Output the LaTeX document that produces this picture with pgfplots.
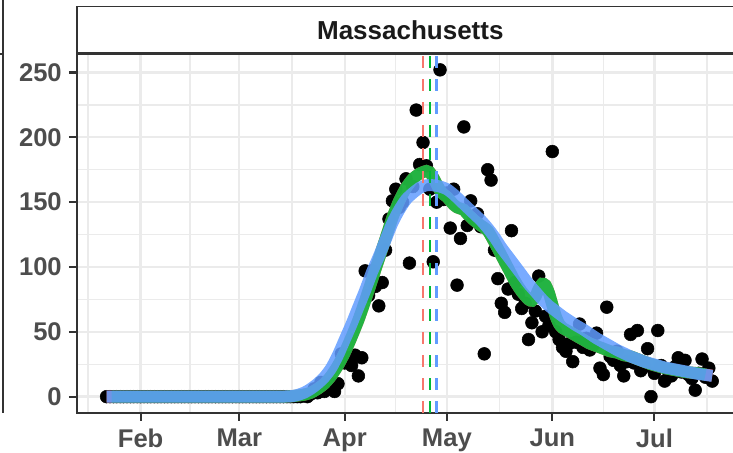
\documentclass[border=0pt]{standalone}
\usepackage{pgfplots}
\pgfplotsset{compat=1.18}
\usepackage{pgfplotstable}
\usepackage{fontspec}
\setmainfont{Liberation Sans}
\definecolor{gridc}{HTML}{EBEBEB}
\definecolor{bord}{HTML}{333333}
\definecolor{ticklab}{HTML}{4D4D4D}
\definecolor{striptxt}{HTML}{1A1A1A}
\definecolor{gred}{HTML}{F8766D}
\definecolor{ggreen}{HTML}{00BA38}
\definecolor{gblue}{HTML}{619CFF}

% day 0 = 1 Feb 2020
\pgfplotstableread{
d v
-10 0
-9 0
-8 0
-7 0
-6 0
-5 0
-4 0
-3 0
-2 0
-1 0
0 0
1 0
2 0
3 0
4 0
5 0
6 0
7 0
8 0
9 0
10 0
11 0
12 0
13 0
14 0
15 0
16 0
17 0
18 0
19 0
20 0
21 0
22 0
23 0
24 0
25 0
26 0
27 0
28 0
29 0
30 0
31 0
32 0
33 0
34 0
35 0
36 0
37 0
38 0
39 0
40 0
41 0
42 0
43 0
44 0
45 0
46 0
47 0
48 1
49 0
50 2
51 6
52 3
53 11
54 4
55 8
56 10
57 4
58 10
59 33
60 26
61 30
62 24
63 32
64 16
65 30
66 97
67 78
68 97
69 85
70 70
71 88
72 113
73 137
74 151
75 160
76 146
77 150
78 168
79 103
80 162
81 221
82 179
83 196
84 178
85 160
86 104
87 150
88 252
89 152
90 157
91 130
92 160
93 86
94 122
95 208
96 132
97 151
98 138
99 141
100 131
101 33
102 175
103 167
104 113
105 91
106 72
107 65
108 83
109 128
110 88
111 79
112 68
113 72
114 44
115 57
116 66
117 93
118 50
119 62
120 55
121 189
122 50
123 44
124 38
125 35
126 41
127 27
128 42
129 56
130 38
131 45
132 36
133 40
134 49
135 22
136 17
137 69
138 31
139 28
140 35
141 24
142 16
143 27
144 48
145 26
146 51
147 20
148 23
149 37
150 0
151 18
152 51
153 24
154 12
155 20
156 16
157 23
158 30
159 19
160 28
161 17
162 14
163 5
164 18
165 29
166 15
167 22
168 12
}\pts

\pgfplotstableread{
d v
-10 0
0 0
10 0
20 0
30 0
40 0
44 0.2
46 0.8
48 1.5
50 3
52 6
54 10
56 16
58 24
60 34
62 46
64 59
66 74
68 90
70 106
72 122
74 138
76 151
78 161
80 168
82 172
84 174
85 173
86 169
87 164
88 159
89 156
90 154
91 151
92 148
93 146
94 145
95 144
96 141
98 136
100 132
102 128
104 119
106 109
108 99
110 89
112 81
114 75
115 74
116 77
117 83
118 87
119 86
120 80
121 71
122 62
123 56
124 53
126 50
128 47
130 44
132 41
134 39
136 37
138 35
140 34
142 32
144 31
146 29
148 27
150 25
152 23.5
154 22
156 21
158 20
160 19
162 18.5
164 18
166 17
168 16.2
}\redfit

\pgfplotstableread{
d v
-8.5 0
0 0
10 0
20 0
30 0
40 0
44 0.2
46 0.8
48 1.5
50 3
52 6
54 10
56 16
58 24
60 34
62 46
64 59
66 74
68 90
70 106
72 122
74 138
76 151
78 161
80 168
82 172
84 174
85 173
86 169
87 164
88 159
89 156
90 154
91 151
92 148
93 146
94 145
95 144
96 141
98 136
100 132
102 128
104 119
106 109
108 99
110 89
112 81
114 75
115 74
116 77
117 83
118 87
119 86
120 80
121 71
122 62
123 56
124 53
126 50
128 47
130 44
132 41
134 39
136 37
138 35
140 34
142 32
144 31
146 29
148 27
150 25
152 23.5
154 22
156 21
158 20
160 19
162 18.5
164 18
166 17
}\greenfit

\pgfplotstableread{
d v
-10 0
0 0
10 0
20 0
30 0
40 0
44 0.3
46 1.2
48 3
50 6
52 10
54 15
56 22
58 32
60 44
62 56
64 69
66 82
68 96
70 108
72 121
74 134
76 144
78 152
80 157
82 161
84 163
86 163
88 162
90 160
92 156
94 151
96 146
98 141
100 136
102 130
104 123
106 115
108 108
110 101
112 94
114 87
116 81
118 75
120 70
122 66
124 62
126 58.5
128 55
130 52
132 48.5
134 45
136 42
138 39
140 36
142 33.5
144 31
146 29
148 27
150 25.5
152 24
154 22.5
156 21.5
158 20.5
160 19.5
162 18.5
164 17.5
166 16.8
168 16
}\bluefit

\begin{document}
\begin{tikzpicture}[x=0.75pt,y=0.75pt]
\useasboundingbox (0,0) rectangle (733,453);
\clip (0,0) rectangle (733,453);
% partial neighbouring panel on the left
\draw[bord, line width=1.6pt] (3.3,40) -- (3.3,460);
\draw[bord, line width=1.6pt] (-5,399) -- (3.3,399);
\begin{axis}[
  at={(57.75pt,30pt)}, anchor=south west,
  scale only axis, width=499.65pt, height=269.6pt,
  xmin=-18.7, xmax=177.1, ymin=-12.6, ymax=264.6,
  xtick={0,29,60,90,121,151},
  xticklabels={Feb,Mar,Apr,May,Jun,Jul},
  ytick={0,50,100,150,200,250},
  minor xtick={-15.5,14.5,44.5,75,105.5,136,166.5},
  minor ytick={25,75,125,175,225},
  grid=both,
  major grid style={draw=gridc, line width=1.8pt},
  minor grid style={draw=gridc, line width=1pt},
  tick pos=left, tick align=outside,
  major tick length=6pt, minor tick length=0pt,
  tick style={draw=bord, line width=1.6pt},
  axis line style={draw=bord, line width=1.6pt},
  /pgf/number format/assume math mode=true,
  tick label style={font=\bfseries\fontsize{19.2}{22}\selectfont, text=ticklab, inner sep=0pt},
  xticklabel style={anchor=north, yshift=-6pt},
  yticklabel style={anchor=east, xshift=-5.25pt},
  clip=true, clip marker paths=true,
]
\addplot[only marks, mark=*, mark size=4.8pt, black, mark options={draw=black, fill=black}] table[x=d, y=v] {\pts};
\addplot[gred, opacity=0.85, line width=9pt, line cap=butt, smooth, tension=0.4] table[x=d, y=v] {\redfit};
\addplot[ggreen, opacity=0.85, line width=9pt, line cap=butt, smooth, tension=0.4] table[x=d, y=v] {\greenfit};
\addplot[gblue, opacity=0.85, line width=9pt, line cap=butt, smooth, tension=0.4] table[x=d, y=v] {\bluefit};
\addplot[gred, line width=2pt, dash pattern=on 9pt off 8.25pt] coordinates {(83,-12.6) (83,264.6)};
\addplot[ggreen, line width=2pt, dash pattern=on 9pt off 8.25pt] coordinates {(85,-12.6) (85,264.6)};
\addplot[gblue, line width=2pt, dash pattern=on 9pt off 8.25pt] coordinates {(87,-12.6) (87,264.6)};
\end{axis}
% facet strip
\draw[bord, line width=1.2pt, fill=white] (77,399.5) rectangle (760,446.3);
\draw[bord, line width=1.6pt] (77,399.5) -- (760,399.5);
\node[anchor=base, inner sep=0pt, text=striptxt, font=\bfseries\fontsize{19.5}{22}\selectfont] at (410.3,413.7) {Massachusetts};
\end{tikzpicture}
\end{document}
